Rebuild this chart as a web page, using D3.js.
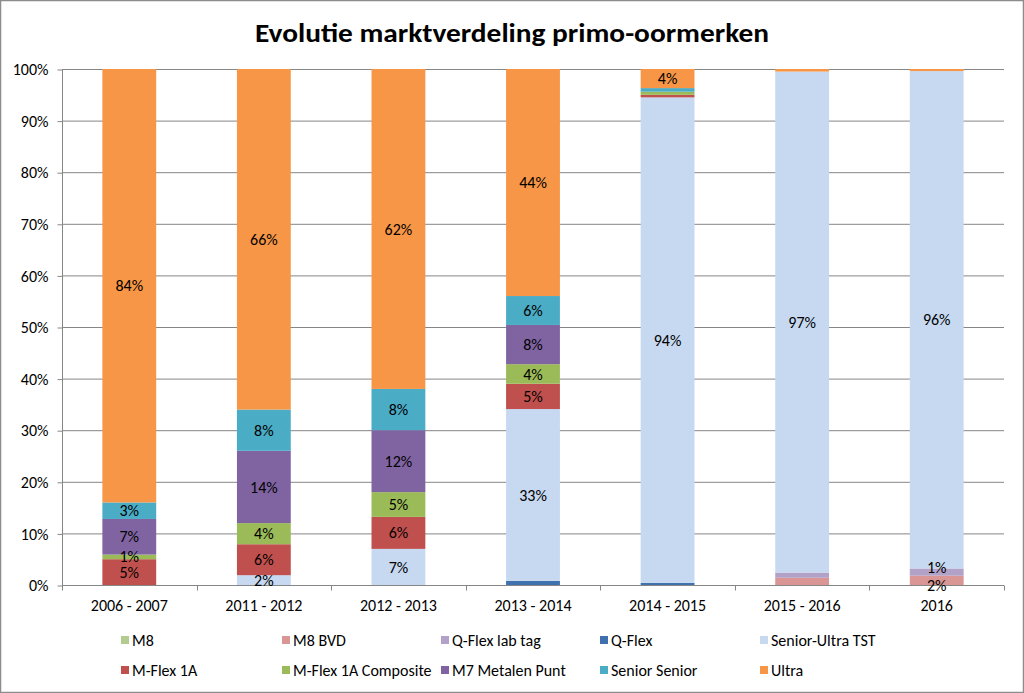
<!DOCTYPE html>
<html><head><meta charset="utf-8">
<script src="https://cdn.jsdelivr.net/npm/d3@7"></script>
<style>body{margin:0;background:#fff} svg{display:block}</style>
</head><body><svg id="c" width="1024" height="693"></svg>
<script>
const categories = ["2006 - 2007","2011 - 2012","2012 - 2013","2013 - 2014","2014 - 2015","2015 - 2016","2016"];
const seriesNames = ["M8","M8 BVD","Q-Flex lab tag","Q-Flex","Senior-Ultra TST","M-Flex 1A","M-Flex 1A Composite","M7 Metalen Punt","Senior Senior","Ultra"];
const seriesColors = ["#B4CB8F","#D99694","#B3A2C7","#3F71AE","#C6D9F1","#C0504D","#9BBB59","#8064A2","#4BACC6","#F79646"];
const m8 =               [0,   0,   0,   0,    0,    0,    0];
const m8Bvd =            [0,   0,   0,   0,    0,    1.4,  1.8];
const qFlexLabTag =      [0,   0,   0,   0,    0,    1.0,  1.4];
const qFlex =            [0,   0,   0,   0.8,  0.4,  0,    0];
const seniorUltraTst =   [0,   1.9, 7,   33.3, 94.1, 97.1, 96.4];
const mFlex1A =          [5,   6,   6.2, 4.9,  0.5,  0,    0];
const mFlex1AComposite = [0.9, 4.1, 4.8, 3.8,  0.6,  0,    0];
const m7MetalenPunt =    [6.9, 14,  12,  7.6,  0,    0,    0];
const seniorSenior =     [3.2, 8,   8,   5.6,  0.7,  0,    0];
const ultra =            [84,  66,  62,  44,   3.7,  0.5,  0.4];
const yTicks = [0,10,20,30,40,50,60,70,80,90,100];
const hiddenLabels = ["M8 BVD|2015 - 2016","Q-Flex lab tag|2015 - 2016"];
const labelNudge = {"Q-Flex lab tag|2016": -5, "M8 BVD|2016": 5};

const seriesValues = [m8,m8Bvd,qFlexLabTag,qFlex,seniorUltraTst,mFlex1A,mFlex1AComposite,m7MetalenPunt,seniorSenior,ultra];
const table = categories.map((c,i)=>{const o={cat:c}; seriesNames.forEach((s,j)=>o[s]=seriesValues[j][i]); return o;});
const stacked = d3.stack().keys(seriesNames)(table);

const svg = d3.select("#c");
const font = "Carlito, Calibri, Lato, 'Open Sans', sans-serif";
const fs = 16;
const grey = "#868686";

svg.append("rect").attr("x",0.5).attr("y",0.5).attr("width",1023).attr("height",692)
  .attr("fill","#fff").attr("stroke","#8c8c8c").attr("stroke-width",1.5);

const x = d3.scaleBand().domain(categories).range([62,1004]).paddingInner(0.6).paddingOuter(0.3);
const y = d3.scaleLinear().domain([0,100]).range([585,69]);

// title
svg.append("text").attr("x",512).attr("y",42).attr("text-anchor","middle")
  .attr("font-family",font).attr("font-weight","bold").attr("font-size",26)
  .attr("textLength",514).attr("lengthAdjust","spacingAndGlyphs")
  .text("Evolutie marktverdeling primo-oormerken");

// gridlines
svg.append("g").selectAll("line").data(yTicks.filter(t=>t>0)).join("line")
  .attr("x1",62).attr("x2",1004).attr("y1",d=>y(d)+0.5).attr("y2",d=>y(d)+0.5)
  .attr("stroke",grey).attr("stroke-width",1);

// bars
const gBars = svg.append("g");
stacked.forEach((layer,j)=>{
  gBars.append("g").attr("fill",seriesColors[j]).selectAll("rect").data(layer).join("rect")
    .attr("x",d=>x(d.data.cat)).attr("width",x.bandwidth())
    .attr("y",d=>y(d[1])).attr("height",d=>Math.max(0,y(d[0])-y(d[1])));
});

// y axis
const yAxis = d3.axisLeft(y).tickValues(yTicks).tickFormat(d=>d+"%").tickSize(5).tickPadding(9);
const gy = svg.append("g").attr("transform","translate(62.5,0.5)").call(yAxis);
gy.select(".domain").attr("stroke",grey).attr("d","M0,"+(y(100)-0.5)+"V"+(y(0)-0.5));
gy.selectAll(".tick line").attr("stroke",grey);
gy.selectAll("text").attr("font-family",font).attr("font-size",fs).attr("fill","#000");

// x axis
const xAxis = d3.axisBottom(x).tickSize(0).tickPadding(14);
const gx = svg.append("g").attr("transform","translate(0,585.5)").call(xAxis);
gx.select(".domain").attr("stroke",grey).attr("d","M62,0H1004");
gx.selectAll("text").attr("font-family",font).attr("font-size",fs).attr("fill","#000");
const step = x.step();
const bounds = d3.range(categories.length+1).map(i=>62+i*step);
gx.append("g").selectAll("line").data(bounds).join("line")
  .attr("x1",d=>Math.round(d)+0.5).attr("x2",d=>Math.round(d)+0.5).attr("y1",0).attr("y2",5).attr("stroke",grey);

// data labels
const gLab = svg.append("g").attr("font-family",font).attr("font-size",fs).attr("fill","#000").attr("text-anchor","middle");
stacked.forEach((layer,j)=>{
  layer.forEach(d=>{
    const v = d[1]-d[0];
    const key = seriesNames[j]+"|"+d.data.cat;
    if (v < 0.9 || hiddenLabels.includes(key)) return;
    gLab.append("text").attr("x",x(d.data.cat)+x.bandwidth()/2).attr("y",y((d[0]+d[1])/2)+(labelNudge[key]||0))
      .attr("dy","0.35em").text(Math.round(v)+"%");
  });
});

// legend
const legX = [121,282,441,600,760];
const legY = [640,670];
const gLeg = svg.append("g").attr("font-family",font).attr("font-size",fs);
seriesNames.forEach((s,i)=>{
  const col = i%5, row = Math.floor(i/5);
  const g = gLeg.append("g").attr("transform",`translate(${legX[col]},${legY[row]})`);
  g.append("rect").attr("x",0).attr("y",-4).attr("width",8).attr("height",8).attr("fill",seriesColors[i]);
  g.append("text").attr("x",11).attr("y",0).attr("dy","0.35em").text(s);
});
</script></body></html>
